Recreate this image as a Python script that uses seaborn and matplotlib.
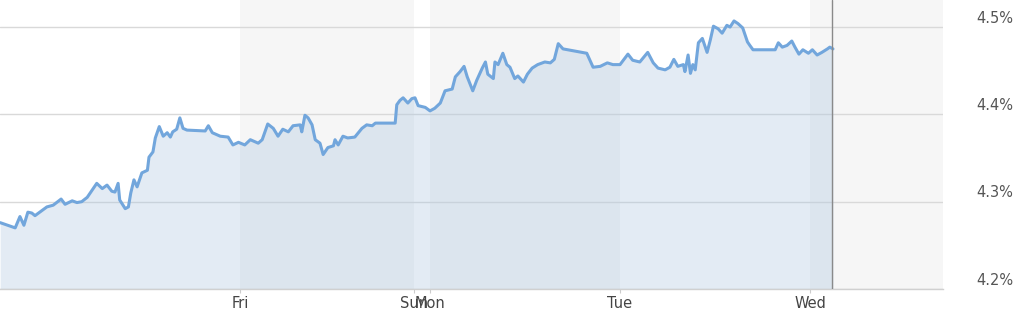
import numpy as np
import pandas as pd
import matplotlib
matplotlib.use("Agg")
import matplotlib.pyplot as plt
import seaborn as sns
from matplotlib.transforms import ScaledTranslation

# hours on a compressed trading timeline (Thu 00:00 = 0, weekend squeezed)
hours = [-6.3, -4.4, -3.8, -3.3, -2.8, -2.3, -1.9, -1.3, -0.4, 0.4, 1.4, 1.9, 2.8, 3.4, 4.0, 4.7,
         5.9, 6.6, 7.2, 7.8, 8.2, 8.6, 8.8, 9.5, 9.9, 10.2, 10.6, 11.0, 11.6, 12.3, 12.5, 13.0,
         13.3, 13.8, 14.3, 14.8, 15.2, 15.5, 16.0, 16.4, 16.8, 17.3, 19.6, 20.0, 20.5, 21.5,
         22.5, 23.1, 23.8, 24.6, 25.3, 26.3, 26.8, 27.5, 28.2, 28.8, 29.4, 30.1, 30.7, 31.6,
         31.8, 32.2, 32.6, 33.1, 33.5, 34.1, 34.5, 35.1, 35.8, 36.0, 36.4, 37.0, 37.6, 38.5,
         39.4, 40.0, 40.7, 41.1, 43.6, 43.8, 44.2, 44.6, 45.2, 45.7, 46.1, 46.5, 47.4, 48.0,
         48.6, 49.3, 49.9, 50.8, 51.2, 51.8, 52.3, 52.7, 53.4, 53.9, 54.6, 55.0, 55.3, 56.0,
         56.2, 56.6, 57.2, 57.7, 58.1, 58.7, 59.1, 59.8, 60.3, 60.9, 61.6, 62.5, 63.2, 63.7,
         64.2, 64.8, 67.8, 68.6, 69.5, 70.4, 71.1, 72.0, 73.0, 73.6, 74.5, 75.5, 76.2, 76.8,
         77.7, 78.3, 78.8, 79.3, 80.0, 80.2, 80.6, 80.9, 81.2, 81.5, 81.9, 82.4, 83.0, 83.4,
         83.8, 84.4, 84.9, 85.5, 85.9, 86.4, 86.9, 87.5, 88.1, 88.4, 88.8, 91.6, 92.0, 92.5,
         93.1, 93.7, 94.1, 94.6, 95.1, 95.8, 96.3, 96.9, 97.5, 98.2, 98.5, 98.9]

yields = [4.276, 4.270, 4.283, 4.273, 4.288, 4.287, 4.284, 4.288, 4.294, 4.296, 4.303, 4.297,
          4.301, 4.299, 4.300, 4.305, 4.321, 4.315, 4.319, 4.312, 4.311, 4.321, 4.302, 4.292,
          4.294, 4.310, 4.325, 4.317, 4.333, 4.336, 4.351, 4.357, 4.373, 4.386, 4.375, 4.379,
          4.374, 4.380, 4.383, 4.396, 4.384, 4.382, 4.381, 4.387, 4.379, 4.375, 4.374, 4.365,
          4.368, 4.365, 4.371, 4.367, 4.371, 4.389, 4.384, 4.375, 4.383, 4.380, 4.387, 4.388,
          4.380, 4.399, 4.396, 4.388, 4.371, 4.367, 4.354, 4.362, 4.364, 4.371, 4.365, 4.375,
          4.373, 4.374, 4.384, 4.388, 4.387, 4.390, 4.390, 4.411, 4.416, 4.419, 4.413, 4.418,
          4.419, 4.410, 4.408, 4.404, 4.407, 4.413, 4.427, 4.429, 4.443, 4.449, 4.455, 4.443,
          4.427, 4.439, 4.453, 4.460, 4.446, 4.441, 4.460, 4.457, 4.470, 4.457, 4.454, 4.441,
          4.444, 4.437, 4.446, 4.453, 4.457, 4.460, 4.459, 4.463, 4.481, 4.475, 4.470, 4.454,
          4.455, 4.459, 4.457, 4.457, 4.469, 4.462, 4.460, 4.471, 4.459, 4.453, 4.451, 4.454,
          4.463, 4.455, 4.457, 4.449, 4.468, 4.447, 4.457, 4.451, 4.482, 4.487, 4.471, 4.485,
          4.501, 4.498, 4.493, 4.502, 4.500, 4.507, 4.504, 4.499, 4.483, 4.479, 4.474, 4.474,
          4.482, 4.477, 4.479, 4.484, 4.477, 4.469, 4.474, 4.470, 4.474, 4.468, 4.471, 4.475,
          4.477, 4.475]

day_labels = ["Fri", "Sun", "Mon", "Tue", "Wed"]
day_ticks = [24, 46, 48, 72, 96]
y_ticks = [4.2, 4.3, 4.4, 4.5]
y_labels = ["4.2%", "4.3%", "4.4%", "4.5%"]
shaded_days = [(24, 46), (48, 72), (96, 113)]
now_hour = 98.8

df = pd.DataFrame({"hour": hours, "yield": yields})

sns.set_style("white")
plt.rcParams['font.family'] = ['DejaVu Sans']

fig = plt.figure(figsize=(10.24, 3.31), dpi=100)
ax = fig.add_axes([0, 42 / 331, 943 / 1024, 289 / 331])

x_min, x_max = -6.32, 112.8
y_min, y_max = 4.2, 4.531

for a, b in shaded_days:
    ax.axvspan(a, b, color="#f6f6f6", zorder=0, lw=0)

for yt in y_ticks:
    ax.axhline(yt, color="#d9d9d9", lw=1.0, zorder=1)

ax.fill_between(df["hour"], df["yield"], y_min, color="#aac4e0", alpha=0.33, lw=0, zorder=2)
sns.lineplot(data=df, x="hour", y="yield", ax=ax, color="#72a6dc", lw=2.2, zorder=3)

ax.axvline(now_hour, color="#8a8a8a", lw=1.0, zorder=4)

ax.set_xlim(x_min, x_max)
ax.set_ylim(y_min, y_max)
ax.set_xlabel("")
ax.set_ylabel("")

ax.set_xticks(day_ticks)
ax.set_xticklabels(day_labels, fontsize=10.5, color="#444444")
ax.tick_params(axis="x", length=3, color="#cccccc", pad=2, bottom=True)

ax.yaxis.tick_right()
ax.set_yticks(y_ticks)
ax.set_yticklabels(y_labels, fontsize=10.5, color="#555555")
ax.tick_params(axis="y", length=0, pad=24, right=False)
for lab in ax.get_yticklabels():
    lab.set_va("bottom")
    lab.set_transform(lab.get_transform() + ScaledTranslation(0, 1 / 72, fig.dpi_scale_trans))

for s in ["top", "left", "right"]:
    ax.spines[s].set_visible(False)
ax.spines["bottom"].set_color("#d0d0d0")
ax.spines["bottom"].set_linewidth(1.0)

fig.savefig("out.png", dpi=100, facecolor="white")
